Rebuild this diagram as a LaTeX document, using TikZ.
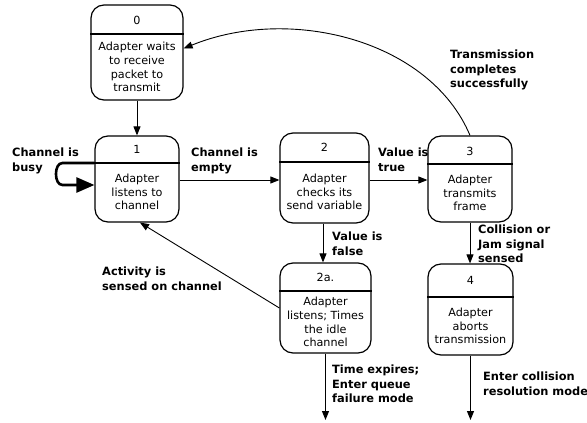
\documentclass[tikz,border=0pt]{standalone}
\usepackage{fontspec}
\setmainfont{DejaVu Sans}
\usetikzlibrary{arrows.meta}
\begin{document}
\begin{tikzpicture}[x=1pt,y=-1pt,
  stbox/.style={draw, rounded corners=13pt, line width=1.2pt, inner sep=0pt},
  divider/.style={line width=1.2pt},
  body/.style={align=center, font=\fontsize{11.2}{13.8}\selectfont, inner sep=0pt},
  lbl/.style={align=left, anchor=north west, font=\fontsize{11.4}{14.2}\selectfont\bfseries, inner sep=0pt},
  conn/.style={line width=0.9pt, -{Triangle[length=9pt,width=7pt]}}]
\useasboundingbox[fill=white] (0,0) rectangle (587,423);

% state 0
\node[stbox, minimum width=92pt, minimum height=95pt] (n0) at (137,52.5) {};
\draw[divider] (n0.west |- 0,34) -- (n0.east |- 0,34);
\node[body] (t0) at (137,20) {0};
\node[body] (b0) at (137,67) {Adapter waits\\to receive\\packet to\\transmit};

% state 1
\node[stbox, minimum width=84pt, minimum height=86pt] (n1) at (137,179) {};
\draw[divider] (n1.west |- 0,163) -- (n1.east |- 0,163);
\node[body] (t1) at (137,149) {1};
\node[body] (b1) at (137,192) {Adapter\\listens to\\channel};

% state 2
\node[stbox, minimum width=89pt, minimum height=90pt] (n2) at (324.5,178) {};
\draw[divider] (n2.west |- 0,162) -- (n2.east |- 0,162);
\node[body] (t2) at (324.5,147) {2};
\node[body] (b2) at (324.5,192) {Adapter\\checks its\\send variable};

% state 3
\node[stbox, minimum width=84pt, minimum height=86pt] (n3) at (470,179) {};
\draw[divider] (n3.west |- 0,164) -- (n3.east |- 0,164);
\node[body] (t3) at (470,151) {3};
\node[body] (b3) at (470,193) {Adapter\\transmits\\frame};

% state 2a
\node[stbox, minimum width=91pt, minimum height=90pt] (n2a) at (325.5,308) {};
\draw[divider] (n2a.west |- 0,291) -- (n2a.east |- 0,291);
\node[body] (t2a) at (325.5,277) {2a.};
\node[body] (b2a) at (325.5,322) {Adapter\\listens; Times\\the idle\\channel};

% state 4
\node[stbox, minimum width=85pt, minimum height=91pt] (n4) at (470.5,309.5) {};
\draw[divider] (n4.west |- 0,297) -- (n4.east |- 0,297);
\node[body] (t4) at (470.5,280) {4};
\node[body] (b4) at (470.5,326) {Adapter\\aborts\\transmission};

% free ends
\coordinate (e1) at (325.5,420);
\coordinate (e2) at (470.5,420);

% connectors
\draw[conn] (n0.south) -- (n1.north);
\draw[line width=2.6pt, -{Triangle[length=18pt,width=15pt]}]
  ([yshift=16pt]n1.west) -- ++(-32,0) to[out=180,in=180] ++(0,22) -- ([yshift=-6pt]n1.west);
\draw[conn] (n1.east |- 0,180) -- (n2.west |- 0,180);
\draw[conn] (n2.east |- 0,180) -- (n3.west |- 0,180);
\draw[conn] (n3.north) .. controls (430,40) and (290,5) .. ([yshift=4pt]n0.east);
\draw[conn] (n2.south -| 323,0) -- (n2a.north -| 323,0);
\draw[conn] (n3.south) -- (n3.south |- n4.north);
\draw[conn] (n2a.west) -- ([xshift=3pt]n1.south);
\draw[conn] (n2a.south) -- (e1);
\draw[conn] (n4.south) -- (e2);

% labels
\node[lbl] (l1) at (12,148) {Channel is\\busy};
\node[lbl] (l2) at (191,148) {Channel is\\empty};
\node[lbl] (l3) at (378,148) {Value is\\true};
\node[lbl] (l4) at (450,50) {Transmission\\completes\\successfully};
\node[lbl] (l5) at (332,232) {Value is\\false};
\node[lbl] (l6) at (478,225) {Collision or\\Jam signal\\sensed};
\node[lbl] (l7) at (102,267) {Activity is\\sensed on channel};
\node[lbl] (l8) at (332,365) {Time expires;\\Enter queue\\failure mode};
\node[lbl] (l9) at (483,372) {Enter collision\\resolution mode};
\end{tikzpicture}
\end{document}
